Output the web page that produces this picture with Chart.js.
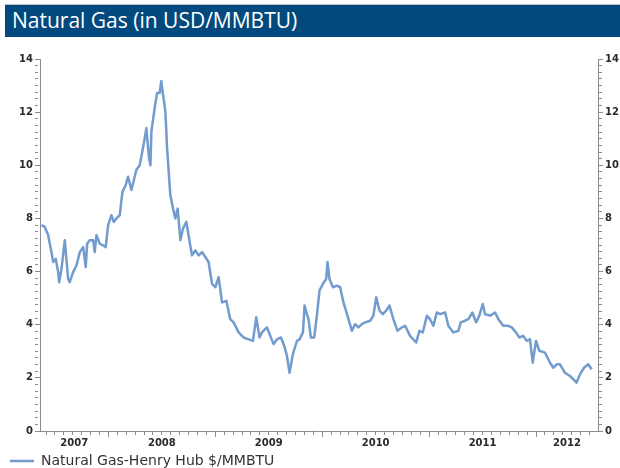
<!DOCTYPE html>
<html>
<head>
<meta charset="utf-8">
<script src="https://cdn.jsdelivr.net/npm/chart.js@4"></script>
<style>
  html, body { margin: 0; padding: 0; background: #fff; }
  #wrap { position: relative; width: 620px; height: 468px; overflow: hidden; }
  #title {
    position: absolute; left: 5px; top: 4px; right: 0; height: 33px;
    background: #02497e; border-top: 1px solid #b9c3cf; box-sizing: border-box;
    color: #fff; font: 21px "Open Sans", sans-serif; line-height: 31px; padding-left: 7px;
  }
  canvas { position: absolute; left: 0; top: 0; }
</style>
</head>
<body>
<div id="wrap">
  <canvas id="myChart" width="620" height="468"></canvas>
  <div id="title">Natural Gas (in USD/MMBTU)</div>
</div>
<script>
// weekly-ish readings, x in decimal years
const dates = [
  2007.374, 2007.405, 2007.436, 2007.467, 2007.483, 2007.507, 2007.530, 2007.539, 2007.561, 2007.592,
  2007.607, 2007.623, 2007.638, 2007.670, 2007.701, 2007.732, 2007.764, 2007.788, 2007.801, 2007.825,
  2007.857, 2007.872, 2007.888, 2007.919, 2007.950, 2007.975, 2007.997,
  2008.028, 2008.050, 2008.075, 2008.106, 2008.131, 2008.162, 2008.184, 2008.215, 2008.262, 2008.293,
  2008.339, 2008.355, 2008.380, 2008.393, 2008.402, 2008.433, 2008.455, 2008.479, 2008.495, 2008.511,
  2008.533, 2008.549, 2008.579, 2008.605, 2008.626, 2008.648, 2008.673, 2008.698, 2008.729, 2008.760,
  2008.782, 2008.813, 2008.844, 2008.876, 2008.907, 2008.937, 2008.969,
  2009.000, 2009.031, 2009.063, 2009.103, 2009.140, 2009.171, 2009.218, 2009.264, 2009.311, 2009.352,
  2009.383, 2009.414, 2009.436, 2009.483, 2009.514, 2009.545, 2009.577, 2009.614, 2009.645, 2009.670,
  2009.694, 2009.726, 2009.764, 2009.788, 2009.820, 2009.835, 2009.857, 2009.872, 2009.894, 2009.925,
  2009.950, 2009.975,
  2010.007, 2010.037, 2010.050, 2010.068, 2010.100, 2010.137, 2010.168, 2010.199, 2010.236, 2010.278,
  2010.308, 2010.339, 2010.371, 2010.402, 2010.449, 2010.479, 2010.505, 2010.536, 2010.567, 2010.598,
  2010.629, 2010.666, 2010.704, 2010.745, 2010.776, 2010.822, 2010.879, 2010.909, 2010.941, 2010.979,
  2011.009, 2011.040, 2011.072, 2011.103, 2011.150, 2011.180, 2011.227, 2011.274, 2011.296, 2011.336,
  2011.367, 2011.405, 2011.439, 2011.470, 2011.502, 2011.523, 2011.570, 2011.617, 2011.648, 2011.694,
  2011.741, 2011.773, 2011.813, 2011.844, 2011.881, 2011.913, 2011.944, 2011.969,
  2012.000, 2012.031, 2012.084, 2012.131, 2012.162, 2012.193, 2012.224, 2012.271, 2012.318, 2012.380,
  2012.411, 2012.449, 2012.489, 2012.521
];
const prices = [
  7.75, 7.68, 7.38, 6.73, 6.36, 6.48, 5.98, 5.60, 6.10, 7.18,
  6.48, 5.73, 5.60, 5.98, 6.23, 6.73, 6.92, 6.17, 7.05, 7.18,
  7.18, 6.73, 7.37, 7.05, 6.99, 6.92, 7.75,
  8.12, 7.87, 8.00, 8.12, 9.00, 9.26, 9.57, 9.07, 9.83, 10.00,
  11.00, 11.40, 10.27, 10.00, 11.27, 12.16, 12.72, 12.72, 13.17, 12.66,
  12.03, 10.64, 8.88, 8.37, 8.00, 8.37, 7.18, 7.62, 7.87, 7.11,
  6.61, 6.80, 6.61, 6.73, 6.55, 6.36, 5.54,
  5.41, 5.79, 4.84, 4.90, 4.21, 4.09, 3.71, 3.52, 3.45, 3.39,
  4.28, 3.52, 3.71, 3.90, 3.58, 3.27, 3.45, 3.52, 3.20, 2.83,
  2.19, 2.90, 3.39, 3.45, 3.71, 4.72, 4.40, 4.21, 3.52, 3.52,
  4.34, 5.29,
  5.54, 5.72, 6.36, 5.72, 5.41, 5.47, 5.41, 4.84, 4.34, 3.77,
  4.02, 3.90, 4.02, 4.09, 4.15, 4.34, 5.03, 4.53, 4.40, 4.53,
  4.72, 4.21, 3.77, 3.90, 3.96, 3.58, 3.33, 3.77, 3.71, 4.34,
  4.20, 3.96, 4.46, 4.40, 4.46, 3.96, 3.71, 3.77, 4.09, 4.15,
  4.21, 4.46, 4.09, 4.34, 4.78, 4.40, 4.34, 4.46, 4.21, 3.96,
  3.96, 3.90, 3.71, 3.52, 3.58, 3.39, 3.45, 2.57,
  3.39, 3.02, 2.95, 2.57, 2.38, 2.51, 2.51, 2.19, 2.07, 1.82,
  2.13, 2.38, 2.51, 2.32
];
const seriesName = 'Natural Gas-Henry Hub $/MMBTU';
const yearLabels = [2007, 2008, 2009, 2010, 2011, 2012];
const yLabels = [0, 2, 4, 6, 8, 10, 12, 14];
const xMin = 2007.36, xMax = 2012.58;
const yMinorStep = 0.25;

const axisColor = '#8c8c8c';
const lineColor = 'rgb(114, 155, 206)';
const tickFont = { family: 'DejaVu Sans', size: 10, weight: 'bold' };

draw_chart();

// month ticks plus hidden ticks that carry the year labels
function buildXTicks(scale) {
  const ticks = [];
  for (let yr = Math.floor(xMin); yr <= Math.ceil(xMax); yr++) {
    for (let m = 0; m < 12; m++) {
      const v = yr + m / 12;
      if (v >= xMin && v <= xMax) ticks.push({ value: v, yearStart: m === 0 });
    }
  }
  yearLabels.forEach(function(yr) {
    const a = Math.max(yr, xMin), b = Math.min(yr + 1, xMax);
    ticks.push({ value: (a + b) / 2, text: String(yr) });
  });
  ticks.sort((p, q) => p.value - q.value);
  scale.ticks = ticks;
}

function buildYTicks(scale) {
  const ticks = [];
  const top = yLabels[yLabels.length - 1];
  for (let i = 0; i * yMinorStep <= top + 1e-9; i++) {
    const v = i * yMinorStep;
    ticks.push({ value: v, text: yLabels.includes(v) ? String(v) : '', isMain: yLabels.includes(v) });
  }
  scale.ticks = ticks;
}

function yAxis(pos, w) {
  return {
    type: 'linear',
    position: pos,
    min: 0,
    max: 14,
    afterBuildTicks: buildYTicks,
    afterFit: function(scale) { scale.width = w; },
    border: { display: true, color: axisColor, width: 1 },
    grid: {
      drawOnChartArea: false,
      drawTicks: true,
      tickLength: 5,
      tickColor: axisColor,
      tickBorderDash: ctx => (ctx.tick && ctx.tick.isMain) ? [] : [3, 20]
    },
    ticks: {
      autoSkip: false,
      padding: 2,
      color: '#2a2a2a',
      font: tickFont,
      callback: (v, i, ticks) => ticks[i].text || ''
    }
  };
}

function draw_chart() {
  const points = dates.map((d, i) => ({ x: d, y: prices[i] }));
  new Chart(document.getElementById('myChart').getContext('2d'), {
    type: 'line',
    data: {
      datasets: [{
        label: seriesName,
        data: points,
        borderColor: lineColor,
        backgroundColor: lineColor,
        borderWidth: 2.5,
        pointRadius: 0,
        tension: 0,
        borderJoinStyle: 'round',
        yAxisID: 'y'
      }]
    },
    options: {
      responsive: false,
      animation: false,
      layout: { padding: { top: 59, left: 10, right: 0, bottom: -10 } },
      plugins: {
        tooltip: { enabled: false },
        legend: {
          position: 'bottom',
          align: 'start',
          labels: {
            usePointStyle: true,
            pointStyle: 'line',
            pointStyleWidth: 24,
            padding: 0,
            color: '#333',
            font: { family: 'DejaVu Sans', size: 14 }
          }
        }
      },
      scales: {
        x: {
          type: 'linear',
          min: xMin,
          max: xMax,
          afterBuildTicks: buildXTicks,
          afterFit: function(scale) { scale.height = 23; },
          border: { display: true, color: axisColor, width: 1 },
          grid: {
            drawOnChartArea: false,
            drawTicks: true,
            tickLength: 6,
            tickColor: ctx => (ctx.tick && ctx.tick.text) ? 'rgba(0,0,0,0)' : axisColor,
            tickBorderDash: ctx => (ctx.tick && ctx.tick.yearStart) ? [] : [3, 20]
          },
          ticks: {
            autoSkip: false,
            maxRotation: 0,
            padding: 0,
            color: '#2a2a2a',
            font: tickFont,
            callback: (v, i, ticks) => ticks[i].text || ''
          }
        },
        y: yAxis('left', 30),
        y2: yAxis('right', 22)
      }
    }
  });
}
</script>
</body>
</html>
